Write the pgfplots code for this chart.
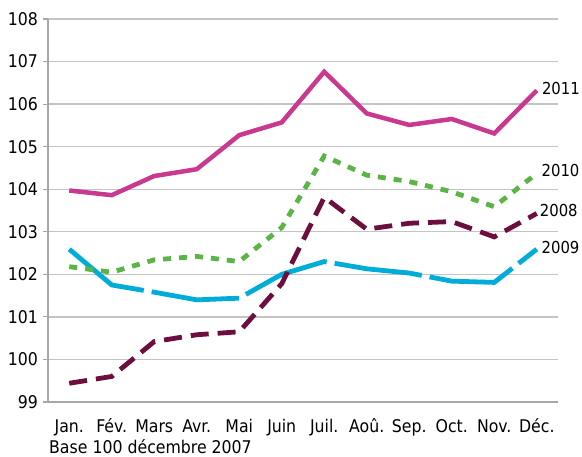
\documentclass[border=0pt]{standalone}
\usepackage{pgfplots}
\pgfplotsset{compat=1.18}
\usepackage{fontspec}
\setmainfont{DejaVu Sans Condensed}
\definecolor{cMag}{HTML}{C9398F}
\definecolor{cGreen}{HTML}{5BB446}
\definecolor{cMaroon}{HTML}{6D0F3E}
\definecolor{cCyan}{HTML}{00ADD8}
\definecolor{cGrid}{HTML}{C4C4C6}
\definecolor{cAxis}{HTML}{A8A8AA}
\begin{document}
\fontsize{17.5pt}{21pt}\selectfont
\begin{tikzpicture}
\useasboundingbox (-48pt,-55pt) rectangle (534pt,402pt);
\begin{axis}[
  scale only axis, width=510pt, height=383pt,
  xmin=-0.5, xmax=11.5, ymin=99, ymax=108,
  axis x line*=bottom, axis y line*=left,
  axis line style={draw=cAxis, line width=1.6pt},
  xtick={0,...,11},
  xticklabels={Jan.,Fév.,Mars,Avr.,Mai,Juin,Juil.,Aoû.,Sep.,Oct.,Nov.,Déc.},
  x tick style={draw=none},
  extra x ticks={-0.5,0.5,...,11.5},
  extra x tick labels={},
  extra x tick style={tick style={draw=cAxis, line width=1.2pt}, major tick length=5pt, tick align=outside},
  ytick={99,...,108},
  y tick style={draw=cAxis, line width=1.2pt},
  major tick length=5pt, tick align=outside,
  ymajorgrids, grid style={draw=cGrid, line width=1.3pt},
  xticklabel style={anchor=base, yshift=-26pt, font=\fontsize{17.5pt}{21pt}\selectfont},
  yticklabel style={anchor=east, xshift=1pt, font=\fontsize{17.5pt}{21pt}\selectfont},
  /pgf/number format/assume math mode=true,
  clip=false,
  line join=miter,
]
\addplot[cCyan, line width=4.8pt, dash pattern=on 88pt off 8pt] coordinates {
(0,102.59)(1,101.75)(2,101.58)(3,101.40)(4,101.44)(5,102.00)(6,102.30)(7,102.13)(8,102.03)(9,101.84)(10,101.81)(11,102.59)};
\addplot[cMaroon, line width=4.8pt, dash pattern=on 18pt off 9pt] coordinates {
(0,99.44)(1,99.60)(2,100.42)(3,100.58)(4,100.65)(5,101.78)(6,103.81)(7,103.06)(8,103.20)(9,103.24)(10,102.88)(11,103.43)};
\addplot[cGreen, line width=4.8pt, dash pattern=on 8pt off 8pt] coordinates {
(0,102.18)(1,102.05)(2,102.34)(3,102.42)(4,102.30)(5,103.10)(6,104.78)(7,104.33)(8,104.18)(9,103.94)(10,103.59)(11,104.37)};
\addplot[cMag, line width=4.5pt] coordinates {
(0,103.97)(1,103.86)(2,104.31)(3,104.47)(4,105.27)(5,105.57)(6,106.76)(7,105.78)(8,105.51)(9,105.65)(10,105.31)(11,106.32)};
\begingroup
\fontsize{16.5pt}{20pt}\selectfont
\node[anchor=west, inner sep=0pt, font=\fontsize{16.5pt}{20pt}\selectfont] at (axis cs:11.12,106.36) {2011};
\node[anchor=west, inner sep=0pt, font=\fontsize{16.5pt}{20pt}\selectfont] at (axis cs:11.11,104.43) {2010};
\node[anchor=west, inner sep=0pt, font=\fontsize{16.5pt}{20pt}\selectfont] at (axis cs:11.07,103.49) {2008};
\node[anchor=west, inner sep=0pt, font=\fontsize{16.5pt}{20pt}\selectfont] at (axis cs:11.11,102.62) {2009};
\endgroup
\node[anchor=base west, inner sep=0pt] at (rel axis cs:0,0) [yshift=-52pt, xshift=1pt] {Base 100 décembre 2007};
\end{axis}
\end{tikzpicture}
\end{document}
